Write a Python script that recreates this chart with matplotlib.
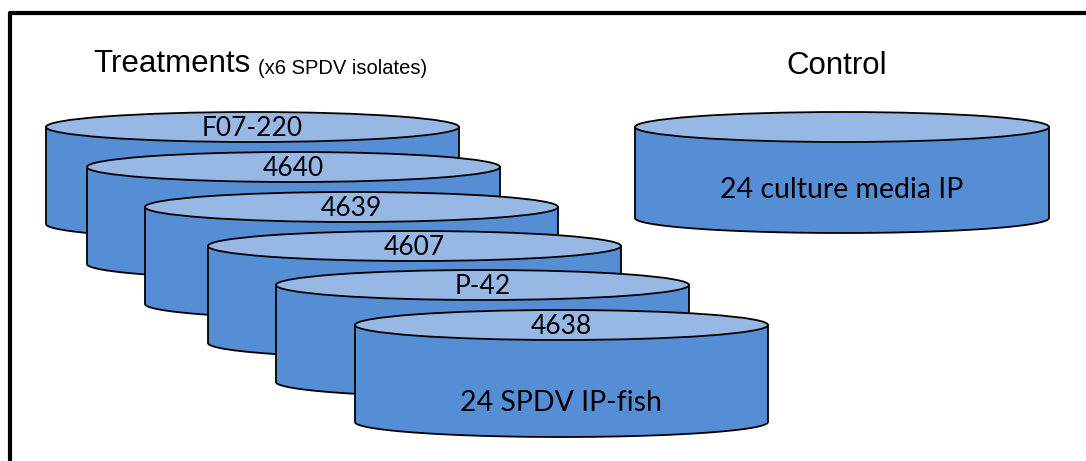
import matplotlib
matplotlib.use("Agg")
import matplotlib.pyplot as plt
from matplotlib.patches import Ellipse, Polygon
import numpy as np

# ---- content ----
isolates = ["F07-220", "4640", "4639", "4607", "P-42", "4638"]
treatment_title = "Treatments"
treatment_sub = "(x6 SPDV isolates)"
treatment_body_label = "24 SPDV IP-fish"
control_title = "Control"
control_body_label = "24 culture media IP"

# ---- layout (pixels) ----
W, H = 1086, 461
tr_left = [46, 87, 145, 208, 276, 355]
tr_top = [127, 167, 207, 246, 285, 325]
tr_width = 413
tr_height = 97
tr_ry = 15
ctrl_left, ctrl_top, ctrl_width, ctrl_height, ctrl_ry = 635, 127, 414, 91, 15

BODY = "#558ED5"
TOP = "#97B8E4"
EDGE = "#000000"

fig = plt.figure(figsize=(W / 100, H / 100), dpi=100)
ax = fig.add_axes([0, 0, 1, 1])
ax.set_xlim(0, W)
ax.set_ylim(H, 0)
ax.axis("off")

z = [1]


def cylinder(left, top, width, height, ry, label=None, body_label=None, body_y=None,
             label_size=19, body_size=20.5):
    rx = width / 2.0
    cx = left + rx
    ang = np.linspace(np.pi, 0, 200)
    bx = cx + rx * np.cos(ang)
    by = top + height + ry * np.sin(ang)
    pts = [(left, top)] + list(zip(bx, by)) + [(left + width, top)]
    ax.add_patch(Polygon(pts, closed=True, facecolor=BODY, edgecolor=EDGE, lw=1.3, zorder=z[0]))
    ax.add_patch(Ellipse((cx, top), width, 2 * ry, facecolor=TOP, edgecolor=EDGE, lw=1.3,
                         zorder=z[0] + 0.5))
    if label:
        ax.text(cx, top + 1, label, ha="center", va="center", fontsize=label_size,
                family="Lato", color="black", zorder=z[0] + 0.6)
    if body_label:
        ax.text(cx, body_y, body_label, ha="center", va="center", fontsize=body_size,
                family="Lato", color="black", zorder=z[0] + 0.6)
    z[0] += 1


for i, name in enumerate(isolates):
    last = i == len(isolates) - 1
    cylinder(tr_left[i], tr_top[i], tr_width, tr_height, tr_ry, label=name,
             body_label=treatment_body_label if last else None,
             body_y=tr_top[i] + 78 if last else None)

cylinder(ctrl_left, ctrl_top, ctrl_width, ctrl_height, ctrl_ry,
         body_label=control_body_label, body_y=ctrl_top + 63)

# titles
t1 = ax.text(93, 64, treatment_title, ha="left", va="center", fontsize=22.5,
             family="Liberation Sans", color="black")
fig.canvas.draw()
bb = t1.get_window_extent()
ax.text(bb.x1 + 8, 68, treatment_sub, ha="left", va="center", fontsize=14.5,
        family="Liberation Sans", color="black")
ax.text(837, 66, control_title, ha="center", va="center", fontsize=22.5,
        family="Liberation Sans", color="black")

# frame
ax.plot([10, 10, W + 5], [H + 5, 13.5, 13.5], color="black", lw=3, solid_capstyle="projecting",
        zorder=50, clip_on=False)

fig.savefig("out.png", dpi=100)
